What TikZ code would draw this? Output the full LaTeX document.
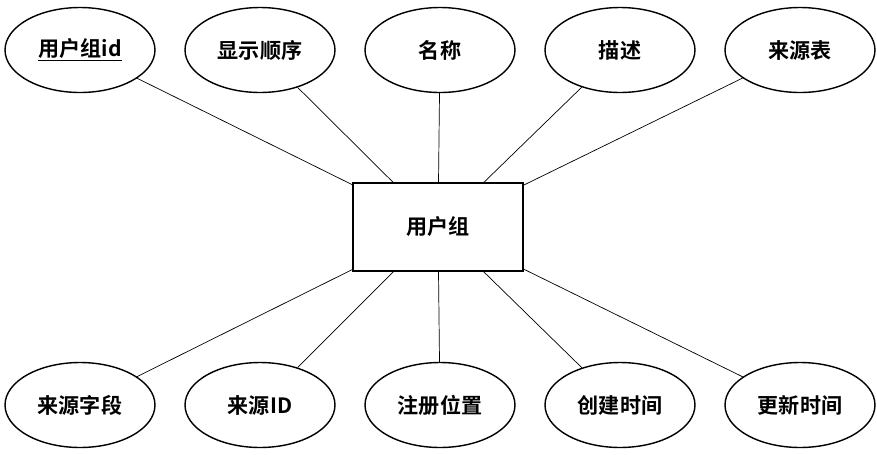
\documentclass[tikz,border=0pt]{standalone}
\usepackage{fontspec}
\setmainfont{Noto Sans CJK SC}[BoldFont={* Bold}]
\usetikzlibrary{positioning}
\usetikzlibrary{shapes.geometric}

\begin{document}
\begin{tikzpicture}
  [
    x = 0.02cm, y = -0.02cm,
    node/.style = {thick, draw, font=\fontsize{12}{14}\selectfont\bfseries, align = center},
    entity/.style = {node, rectangle, minimum width = 3.4cm, minimum height = 1.76cm},
    attr/.style = {node, ellipse, minimum width = 3cm, minimum height = 1.7cm},
  ]
  \useasboundingbox (0,0) rectangle (877,454);

  \node[entity] (group) at (438,227) {用户组};

  \node[attr] at (80,50) (gid) {\underline{用户组id}}
    edge(group);
  \node[attr] at (260,50) (order) {显示顺序}
    edge(group);
  \node[attr] at (440,50) (name) {名称}
    edge(group);
  \node[attr] at (620,50) (desc) {描述}
    edge(group);
  \node[attr] at (800,50) (srctab) {来源表}
    edge(group);

  \node[attr] at (80,405) (srcfield) {来源字段}
    edge(group);
  \node[attr] at (260,405) (srcid) {来源ID}
    edge(group);
  \node[attr] at (440,405) (regpos) {注册位置}
    edge(group);
  \node[attr] at (620,405) (ctime) {创建时间}
    edge(group);
  \node[attr] at (800,405) (utime) {更新时间}
    edge(group);

\end{tikzpicture}
\end{document}
